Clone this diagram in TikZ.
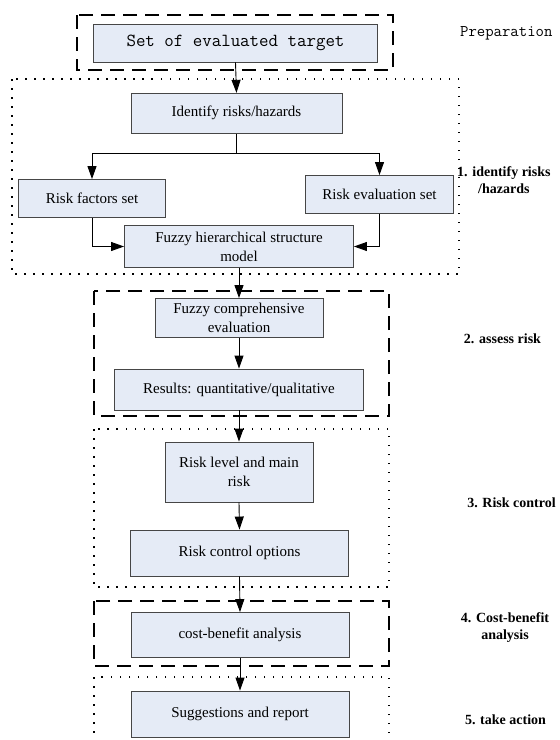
\documentclass[tikz,border=0pt]{standalone}
\usepackage{fontspec}
\setmainfont{Liberation Serif}
\usetikzlibrary {arrows.meta, positioning}

\definecolor{boxfill}{RGB}{229,235,246}
\definecolor{boxline}{RGB}{70,70,70}

\begin{document}
\begin{tikzpicture}[
    x=1pt, y=1pt,
    >={Triangle[width=9pt, length=13pt]},
    arr/.style={->, line width=0.9pt},
    stage/.style={draw=boxline, fill=boxfill, line width=0.9pt,
                  font=\fontsize{15}{19}\selectfont, align=center,
                  inner sep=2pt},
    dashframe/.style={line width=2.5pt, dash pattern=on 14pt off 8pt},
    dotframe/.style={line width=1.5pt, dash pattern=on 1.5pt off 7.5pt},
    phase/.style={font=\fontsize{14}{17}\selectfont\bfseries, align=center},
]
    \useasboundingbox (0,0) rectangle (560,-740);

    % frames of the phases
    \draw[dashframe] (77,-15)  rectangle (393,-70);
    \draw[dotframe]  (12,-79)  rectangle (459,-274);
    \draw[dashframe] (94,-291) rectangle (389,-416);
    \draw[dotframe]  (94,-429) rectangle (389,-587);
    \draw[dashframe] (94,-601) rectangle (389,-666);
    \draw[dotframe]  (94,-677) rectangle (389,-760);

    % steps
    \node[stage, minimum width=284pt, minimum height=38pt,
          font=\ttfamily\fontsize{18.4}{20}\selectfont] (target) at (235.5,-43) {Set of evaluated target};
    \node[stage, minimum width=211pt, minimum height=40pt] (identify) at (236.5,-113.3) {Identify risks/hazards};
    \node[stage, minimum width=147pt, minimum height=38pt] (factors)  at (92,-198.5)    {Risk factors set};
    \node[stage, minimum width=148pt, minimum height=38pt] (evalset)  at (379.5,-194.5) {Risk evaluation set};
    \node[stage, minimum width=229pt, minimum height=42pt] (fuzzyh)   at (239,-246.5)   {Fuzzy hierarchical structure\\model};
    \node[stage, minimum width=168pt, minimum height=39pt] (fuzzyc)   at (239,-318)     {Fuzzy comprehensive\\evaluation};
    \node[stage, minimum width=249pt, minimum height=41pt] (results)  at (239,-389.5)   {Results: quantitative/qualitative};
    \node[stage, minimum width=148pt, minimum height=60pt] (level)    at (239,-472)     {Risk level and main\\risk};
    \node[stage, minimum width=218pt, minimum height=46pt] (options)  at (239.5,-553)   {Risk control options};
    \node[stage, minimum width=218pt, minimum height=45pt] (costben)  at (240,-635)     {cost-benefit analysis};
    \node[stage, minimum width=218pt, minimum height=46pt] (suggest)  at (240,-714)     {Suggestions and report};

    % phase names
    \node[font=\ttfamily\fontsize{16.3}{18}\selectfont, anchor=east] (prep) at (556,-33) {Preparation};
    \node[phase, anchor=north west, align=left, inner sep=0pt] (ph1) at (457,-166) {1. identify risks\\\hspace*{21pt}/hazards};
    \node[phase] (ph2) at (502.5,-339) {2. assess risk};
    \node[phase] (ph3) at (511.5,-503) {3. Risk control};
    \node[phase] (ph4) at (505,-628) {4. Cost-benefit\\analysis};
    \node[phase] (ph5) at (505.5,-720) {5. take action};

    % connectors
    \coordinate (split) at (236.5,-153.3);
    \draw[arr] (target.south)  -- (identify.north);
    \draw[arr] (identify.south) -- (split) -| (factors.north);
    \draw[arr] (split) -| (evalset.north);
    \draw[arr] (factors.south) |- (fuzzyh.west);
    \draw[arr] (evalset.south) |- (fuzzyh.east);
    \draw[arr] (fuzzyh.south)  -- (fuzzyc.north);
    \draw[arr] (fuzzyc.south)  -- (results.north);
    \draw[arr] (results.south) -- (level.north);
    \draw[arr] (level.south)   -- (options.north);
    \draw[arr] (options.south) -- (costben.north);
    \draw[arr] (costben.south) -- (suggest.north);
\end{tikzpicture}
\end{document}
